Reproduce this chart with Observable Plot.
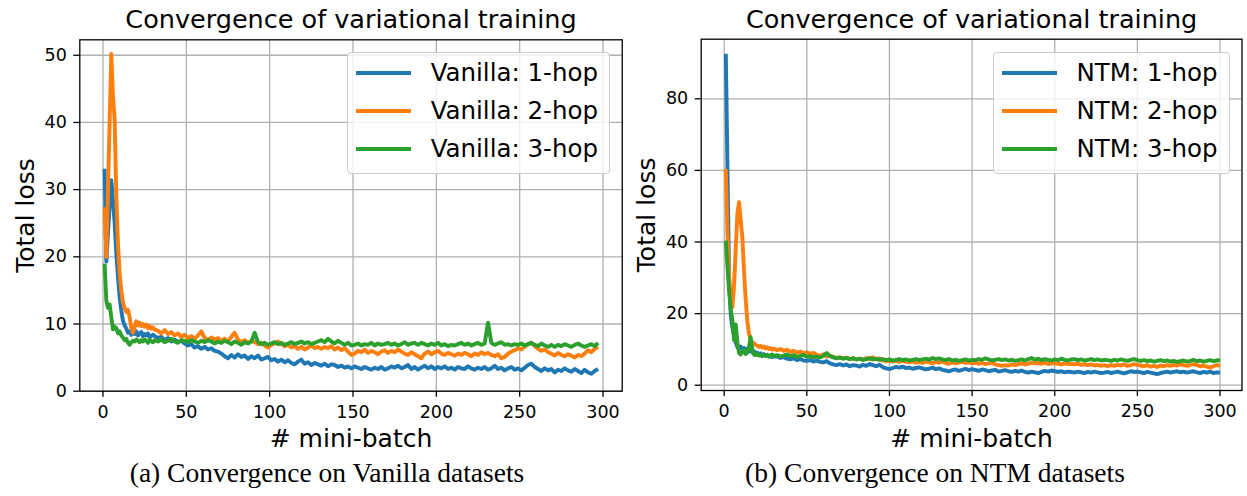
<!DOCTYPE html>
<html>
<head>
<meta charset="utf-8">
<script src="https://cdn.jsdelivr.net/npm/d3@7"></script>
<script src="https://cdn.jsdelivr.net/npm/@observablehq/plot@0.6"></script>
<style>
  body { margin: 0; background: #fff; }
  #wrap { position: relative; width: 1247px; height: 496px; overflow: hidden; font-family: "DejaVu Sans", sans-serif; background: #fff; }
  .panel { position: absolute; top: 0; }
  .legend { position: absolute; top: 51.5px; height: 122px; box-sizing: border-box; border: 1px solid #cccccc; border-radius: 4px; background: rgba(255,255,255,0.8); padding: 1.8px 11px 0 8px; }
  .row { display: flex; align-items: center; height: 38px; font-size: 24.5px; color: #000; white-space: nowrap; line-height: 1; }
  .sw { width: 55px; height: 4px; margin-right: 20px; flex: none; }
  .cap { position: absolute; top: 459px; font-family: "Liberation Serif", serif; font-size: 27.5px; line-height: 1; transform: translateX(-50%); white-space: nowrap; color: #000; }
</style>
</head>
<body>
<div id="wrap"></div>
<script>
// ---------- data ----------
const chartTitle = "Convergence of variational training";
const xLabel = "# mini-batch";
const yLabel = "Total loss";
const colors = ["#1f77b4", "#ff7f0e", "#2ca02c"];
const xTickValues = [0, 50, 100, 150, 200, 250, 300];
const yTicksVanilla = [0, 10, 20, 30, 40, 50];
const yTicksNTM = [0, 20, 40, 60, 80];
const namesVanilla = ["Vanilla: 1-hop", "Vanilla: 2-hop", "Vanilla: 3-hop"];
const namesNTM = ["NTM: 1-hop", "NTM: 2-hop", "NTM: 3-hop"];
const captionVanilla = "(a) Convergence on Vanilla datasets";
const captionNTM = "(b) Convergence on NTM datasets";

// mini-batch indices: every batch up to 30, then every other batch
const xVanilla = d3.range(1, 31).concat(d3.range(31, 298, 2));
const xNTM = d3.range(1, 31).concat(d3.range(32, 301, 2));

const vanilla1 = [
  33.1, 19.3, 23.5, 27.5, 31.4, 28.5, 25.0, 20.5, 17.0, 14.0, 12.0, 10.5, 9.8, 9.3, 8.7, 8.9, 8.4, 8.8, 8.5, 8.9, 8.3, 8.6, 8.8, 8.2, 8.5, 8.3, 8.6, 8.0, 8.2, 8.4,
  8.2, 7.9, 8.1, 7.6, 7.9, 7.4, 7.7, 7.3, 7.5, 7.1,
  6.8, 7.0, 6.5, 6.7, 6.3, 6.6, 6.2, 6.4, 6.0, 5.9,
  5.6, 5.2, 4.9, 5.4, 5.0, 5.5, 5.1, 5.3, 4.8, 5.2,
  4.9, 5.3, 4.7, 4.9, 5.1, 4.6, 4.8, 4.4, 4.7, 4.3,
  4.6, 4.2, 4.0, 4.4, 4.7, 4.1, 4.3, 3.9, 4.2, 4.0,
  3.8, 4.1, 3.7, 4.0, 3.9, 3.6, 3.8, 3.5, 3.7, 3.4,
  3.7, 3.5, 3.3, 3.6, 3.4, 3.2, 3.5, 3.3, 3.6, 3.2,
  3.4, 3.7, 3.5, 3.8, 3.4, 3.6, 3.9, 3.3, 3.6, 3.2,
  3.5, 3.8, 3.4, 3.7, 3.3, 3.6, 3.4, 3.7, 3.3, 3.5,
  3.2, 3.6, 3.4, 3.3, 3.7, 3.4, 3.2, 3.5, 3.3, 3.6,
  3.2, 3.4, 3.8, 3.3, 3.5, 3.1, 3.4, 3.6, 3.2, 3.4,
  3.1, 3.5, 3.9, 4.1, 3.6, 3.3, 3.0, 3.4, 3.1, 3.3,
  2.8, 3.2, 3.0, 3.4, 3.1, 2.9, 3.3, 3.0, 2.7, 3.2,
  2.8, 2.6, 3.0, 3.3
];
const vanilla2 = [
  27.4, 20.0, 30.0, 40.0, 50.2, 44.0, 40.5, 29.0, 22.0, 17.5, 15.0, 13.2, 12.4, 11.8, 12.1, 11.0, 9.4, 8.7, 9.6, 10.4, 9.8, 10.2, 9.7, 10.0, 9.6, 9.9, 9.4, 9.7, 9.3, 9.5,
  9.2, 9.0, 8.6, 9.1, 8.5, 8.8, 8.3, 8.6, 8.1, 8.4,
  7.9, 8.2, 7.8, 8.3, 8.9, 7.9, 7.6, 8.0, 7.7, 7.9,
  7.5, 7.8, 7.4, 8.1, 8.7, 7.7, 7.3, 7.6, 7.2, 7.5,
  7.3, 7.0, 7.2, 6.8, 6.5, 6.9, 7.1, 7.4, 7.0, 6.7,
  6.9, 6.5, 6.7, 6.3, 6.6, 6.2, 6.5, 6.8, 6.4, 6.6,
  6.3, 6.6, 6.4, 6.7, 6.2, 6.5, 6.1, 6.4, 5.9, 5.4,
  5.6, 6.0, 5.8, 6.2, 5.7, 6.0, 5.8, 5.5, 5.9, 6.1,
  5.7, 6.0, 5.8, 6.2, 5.9, 5.6, 5.4, 5.8, 5.5, 5.2,
  4.9, 5.6, 5.9, 5.5, 5.8, 6.0, 5.6, 5.4, 5.7, 5.5,
  5.3, 5.6, 5.4, 5.7, 5.5, 5.2, 5.6, 5.4, 5.8, 5.5,
  5.7, 5.4, 5.2, 5.5, 4.9, 5.1, 5.6, 5.9, 6.1, 6.4,
  6.2, 6.6, 7.0, 7.2, 6.7, 6.3, 6.0, 6.2, 5.8, 5.6,
  5.3, 5.7, 5.4, 5.2, 5.5, 5.3, 5.0, 5.4, 5.2, 5.6,
  6.1, 5.8, 6.3, 6.6
];
const vanilla3 = [
  19.0, 13.5, 12.4, 12.9, 11.0, 9.2, 9.6, 9.4, 8.6, 8.9, 8.3, 8.0, 7.6, 7.8, 7.2, 6.9, 7.3, 7.5, 7.4, 7.7, 7.5, 7.3, 7.6, 7.4, 7.7, 7.5, 7.2, 7.6, 7.4, 7.3,
  7.6, 7.4, 7.7, 7.3, 7.5, 7.8, 7.4, 7.2, 7.6, 7.5,
  7.3, 7.6, 7.4, 7.2, 7.5, 7.3, 7.6, 7.4, 7.1, 7.4,
  7.2, 7.5, 7.3, 7.0, 7.4, 7.2, 6.9, 7.3, 7.1, 7.4,
  8.7, 7.3, 7.0, 7.2, 6.9, 7.1, 7.3, 7.0, 7.2, 6.9,
  7.1, 7.3, 7.0, 7.2, 7.4, 7.1, 7.3, 7.0, 7.2, 7.4,
  7.6, 7.3, 7.8, 7.4, 7.1, 7.5, 7.2, 6.9, 7.2, 6.8,
  6.9, 7.1, 6.8, 7.0, 6.9, 7.2, 6.8, 7.1, 6.9, 7.0,
  7.2, 6.9, 7.1, 6.8, 7.0, 7.3, 6.9, 7.1, 7.2, 6.9,
  7.2, 7.0, 6.8, 7.1, 6.9, 7.2, 6.8, 7.0, 6.7, 6.9,
  6.8, 7.0, 7.2, 6.9, 7.1, 6.8, 7.0, 7.2, 6.9, 7.1,
  10.2, 7.2, 6.9, 7.1, 7.3, 6.9, 7.0, 6.8, 7.0, 6.9,
  7.1, 6.8, 7.0, 7.2, 6.9, 6.7, 7.1, 6.8, 6.6, 6.9,
  6.6, 6.9, 6.7, 7.0, 6.8, 6.6, 6.9, 7.1, 6.8, 6.6,
  6.8, 7.0, 6.7, 7.2
];

const ntm1 = [
  92.6, 60.0, 30.0, 19.5, 16.0, 14.0, 12.0, 10.6, 10.2, 10.8, 10.0, 10.4, 9.6, 10.2, 9.4, 9.8, 9.2, 9.5, 8.9, 9.1, 8.6, 8.9, 8.4, 8.7, 8.2, 8.5, 8.0, 8.3, 7.9, 8.1,
  8.0, 7.6, 7.9, 7.4, 7.2, 7.5, 7.0, 7.3, 6.9, 6.8,
  7.0, 6.6, 6.9, 6.5, 6.4, 6.7, 6.1, 5.8, 5.6, 5.9,
  5.5, 5.8, 5.3, 5.6, 5.5, 5.2, 5.7, 5.4, 5.9, 5.6,
  5.3, 5.7, 5.0, 4.7, 4.5, 4.8, 5.1, 4.9, 5.2, 4.8,
  4.9, 4.6, 4.8, 5.0, 4.7, 4.4, 4.6, 4.9, 4.5, 4.7,
  4.3, 4.1, 3.9, 4.2, 4.4, 4.0, 4.3, 4.6, 4.2, 4.5,
  4.3, 4.0, 4.4, 4.2, 3.9, 4.1, 4.3, 3.8, 4.0, 4.2,
  3.9, 3.7, 4.0, 3.8, 4.1, 3.7, 3.5, 3.8, 3.6, 3.4,
  3.7, 4.0, 3.8, 4.1, 3.9, 3.7, 3.9, 3.6, 3.8, 3.7,
  3.5, 3.8, 3.6, 3.4, 3.7, 3.5, 3.8, 3.6, 3.4, 3.5,
  3.7, 3.4, 3.6, 3.8, 3.5, 3.3, 3.6, 3.9, 3.7, 3.8,
  3.6, 3.4, 3.7, 3.5, 3.3, 3.1, 3.4, 3.6, 3.8, 3.5,
  3.7, 3.9, 3.6, 3.8, 3.5, 3.7, 3.9, 3.6, 3.4, 3.7,
  3.5, 3.8, 3.4, 3.6, 3.5
];
const ntm2 = [
  60.4, 42.0, 30.0, 24.0, 21.8, 28.0, 38.0, 48.0, 51.1, 46.0, 41.3, 32.0, 24.0, 18.0, 14.4, 12.8, 12.0, 11.6, 11.3, 11.1, 10.7, 11.0, 10.5, 10.8, 10.3, 10.6, 10.1, 10.4, 9.9, 10.2,
  9.8, 10.1, 9.6, 9.9, 9.3, 9.6, 9.1, 9.4, 8.9, 9.2,
  8.8, 9.0, 8.5, 8.2, 8.6, 8.0, 8.3, 7.9, 7.6, 7.8,
  7.5, 7.7, 7.3, 7.6, 7.2, 7.4, 7.1, 7.6, 7.3, 7.8,
  7.2, 7.5, 6.9, 6.7, 6.9, 6.6, 6.8, 6.5, 6.8, 6.6,
  6.4, 6.7, 6.3, 6.5, 6.2, 6.6, 6.4, 6.1, 6.5, 6.3,
  6.6, 6.2, 6.0, 6.4, 6.1, 6.3, 6.5, 6.2, 6.4, 6.1,
  6.3, 6.0, 6.2, 5.9, 6.1, 6.3, 5.8, 5.6, 5.4, 5.6,
  5.5, 5.8, 5.6, 5.9, 6.1, 5.8, 6.0, 6.3, 6.1, 6.2,
  6.0, 6.3, 5.9, 6.1, 6.2, 6.0, 5.8, 6.1, 5.9, 6.0,
  5.8, 6.0, 5.7, 5.9, 5.6, 5.8, 5.5, 5.7, 5.4, 5.6,
  5.3, 5.6, 5.4, 5.7, 5.5, 5.8, 5.4, 5.6, 5.9, 5.7,
  5.5, 5.3, 5.6, 5.2, 5.4, 5.1, 5.5, 5.3, 5.6, 5.4,
  5.7, 5.5, 5.8, 5.6, 5.4, 5.7, 5.9, 5.6, 5.3, 5.5,
  5.2, 4.9, 5.3, 5.6, 5.5
];
const ntm3 = [
  40.4, 33.0, 26.0, 21.0, 18.0, 12.5, 17.0, 12.0, 9.0, 8.6, 9.2, 9.8, 8.7, 9.1, 10.5, 13.4, 10.0, 8.6, 8.4, 8.7, 8.3, 8.5, 8.1, 8.4, 8.2, 8.5, 8.0, 8.3, 8.6, 8.1,
  8.4, 8.0, 8.3, 8.6, 8.1, 8.4, 7.9, 8.2, 8.5, 7.9,
  8.1, 7.8, 8.0, 7.7, 8.2, 9.0, 8.1, 7.8, 7.5, 7.7,
  7.4, 7.6, 7.3, 7.5, 7.2, 7.4, 7.1, 7.3, 7.6, 7.2,
  7.4, 7.1, 7.3, 7.0, 7.2, 6.9, 7.1, 7.3, 7.0, 7.2,
  6.9, 7.1, 7.3, 7.0, 7.2, 7.4, 7.1, 7.6, 7.3, 7.5,
  7.2, 7.0, 7.3, 6.9, 7.1, 6.8, 7.0, 7.2, 6.9, 7.1,
  7.0, 7.3, 7.1, 7.5, 7.2, 6.9, 7.1, 7.3, 7.0, 7.2,
  6.9, 7.1, 6.8, 7.0, 7.2, 6.9, 7.3, 7.6, 7.1, 7.4,
  7.0, 7.3, 7.1, 6.9, 7.2, 7.0, 7.4, 7.1, 6.9, 7.2,
  7.3, 7.0, 7.2, 6.9, 7.1, 7.3, 7.0, 7.2, 6.9, 7.1,
  7.0, 6.8, 7.1, 6.9, 7.2, 7.0, 6.8, 7.1, 7.3, 7.0,
  6.8, 7.0, 6.7, 6.9, 6.6, 6.8, 7.0, 6.7, 6.9, 6.6,
  6.8, 6.5, 6.7, 6.9, 6.6, 6.8, 7.1, 6.7, 6.9, 6.6,
  6.8, 7.0, 6.7, 6.9, 7.1
];

// ---------- drawing ----------
function toPoints(xs, vals) {
  const out = [];
  for (let i = 0; i < Math.min(xs.length, vals.length); i++) out.push({x: xs[i], y: vals[i]});
  return out;
}

function makePanel(cfg) {
  const gridStyle = {stroke: "#b0b0b0", strokeOpacity: 1, strokeWidth: 1.3};
  const marks = [
    Plot.ruleX(xTickValues, gridStyle),
    Plot.ruleY(cfg.yTicks, gridStyle),
    ...cfg.series.map((vals, k) => Plot.line(toPoints(cfg.xs, vals), {
      x: "x", y: "y", stroke: colors[k], strokeWidth: 3.9, strokeLinejoin: "round", strokeLinecap: "butt"
    })),
    Plot.frame({stroke: "#000", strokeWidth: 1.3}),
    Plot.axisX(xTickValues, {tickSize: 6, tickPadding: 8, strokeWidth: 1.3, label: null, fontSize: 17.5}),
    Plot.axisY(cfg.yTicks, {tickSize: 6, tickPadding: 7, strokeWidth: 1.3, label: null, fontSize: 17.5}),
    Plot.text([chartTitle], {text: d => d, frameAnchor: "top", dy: -19.5, fontSize: 25.5, lineAnchor: "middle"}),
    Plot.text([xLabel], {text: d => d, frameAnchor: "bottom", dy: cfg.xlabelDy, fontSize: 25, lineAnchor: "middle"}),
    Plot.text([yLabel], {text: d => d, frameAnchor: "left", dx: cfg.ylabelDx, rotate: -90, fontSize: 25, lineAnchor: "middle", textAnchor: "middle"})
  ];
  return Plot.plot({
    width: cfg.width,
    height: 496,
    marginLeft: cfg.marginLeft,
    marginRight: cfg.marginRight,
    marginTop: cfg.marginTop,
    marginBottom: cfg.marginBottom,
    x: {domain: cfg.xDomain},
    y: {domain: cfg.yDomain},
    style: {fontFamily: "DejaVu Sans, sans-serif", fontSize: "17.5px", color: "#000", background: "transparent", overflow: "visible"},
    marks
  });
}

const wrap = document.getElementById("wrap");

const left = makePanel({
  xs: xVanilla, series: [vanilla1, vanilla2, vanilla3], yTicks: yTicksVanilla,
  width: 625, marginLeft: 79.3, marginRight: 3.3, marginTop: 39.3, marginBottom: 105.3,
  xDomain: [-13.9, 311.5], yDomain: [0, 52.3], xlabelDy: 47.3, ylabelDx: -53.5
});
left.classList.add("panel");
left.style.left = "0px";
wrap.appendChild(left);

const right = makePanel({
  xs: xNTM, series: [ntm1, ntm2, ntm3], yTicks: yTicksNTM,
  width: 622, marginLeft: 75.7, marginRight: 5.5, marginTop: 38.7, marginBottom: 106,
  xDomain: [-13.9, 313.3], yDomain: [-1.48, 96.65], xlabelDy: 48, ylabelDx: -54.5
});
right.classList.add("panel");
right.style.left = "625px";
wrap.appendChild(right);

function makeLegend(names, rightPx) {
  const box = document.createElement("div");
  box.className = "legend";
  box.style.right = rightPx + "px";
  names.forEach((n, k) => {
    const row = document.createElement("div");
    row.className = "row";
    const sw = document.createElement("div");
    sw.className = "sw";
    sw.style.background = colors[k];
    const t = document.createElement("span");
    t.textContent = n;
    row.appendChild(sw);
    row.appendChild(t);
    box.appendChild(row);
  });
  wrap.appendChild(box);
}
makeLegend(namesVanilla, 1247 - 610);
makeLegend(namesNTM, 1247 - 1229.5);

function makeCaption(text, cx) {
  const c = document.createElement("div");
  c.className = "cap";
  c.style.left = cx + "px";
  c.textContent = text;
  wrap.appendChild(c);
}
makeCaption(captionVanilla, 327);
makeCaption(captionNTM, 935);
</script>
</body>
</html>
